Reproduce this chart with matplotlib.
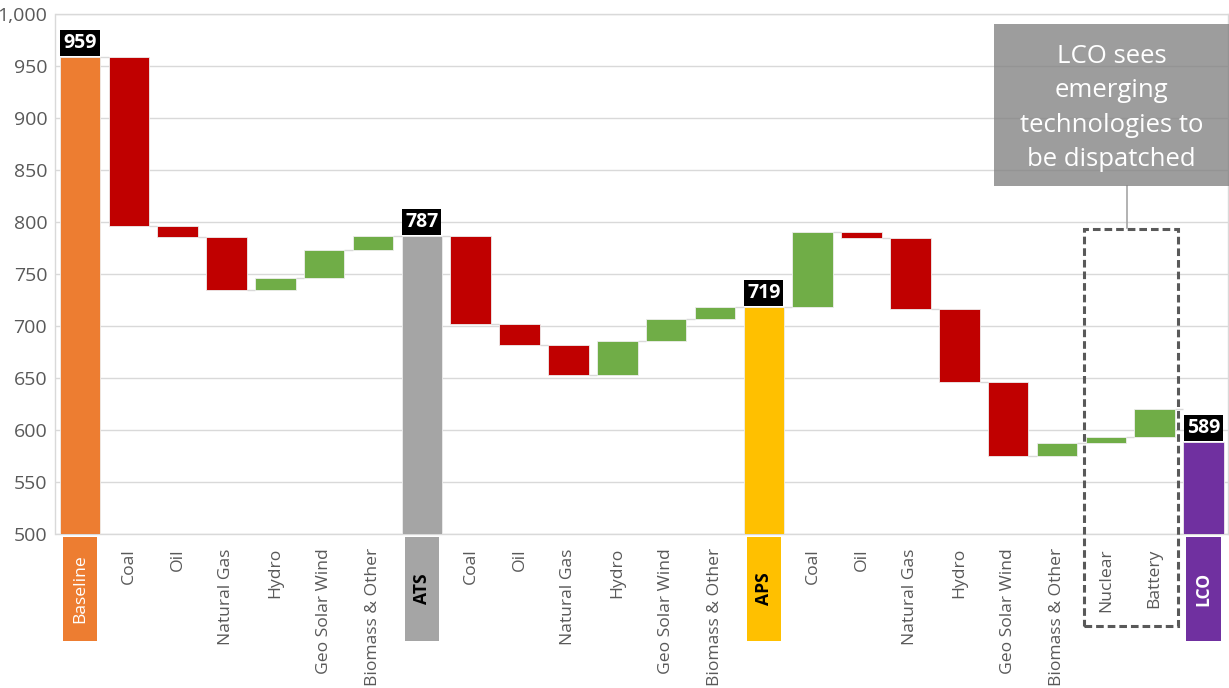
import matplotlib
matplotlib.use('Agg')
import matplotlib.pyplot as plt
from matplotlib.patches import Rectangle
from matplotlib.lines import Line2D
from matplotlib.transforms import blended_transform_factory
import matplotlib.ticker as mticker

# ---------------- data ----------------
categories = ["Baseline", "Coal", "Oil", "Natural Gas", "Hydro", "Geo Solar Wind", "Biomass & Other",
              "ATS", "Coal", "Oil", "Natural Gas", "Hydro", "Geo Solar Wind", "Biomass & Other",
              "APS", "Coal", "Oil", "Natural Gas", "Hydro", "Geo Solar Wind", "Biomass & Other",
              "Nuclear", "Battery", "LCO"]
# totals are absolute values, other entries are changes
values = [959, -163, -10, -51, 11, 27, 14,
          787, -85, -20, -29, 33, 21, 12,
          719, 72, -6, -68, -71, -71, 13, 6, 26,
          589]
is_total = [True] + [False] * 6 + [True] + [False] * 6 + [True] + [False] * 8 + [True]
total_colors = {"Baseline": "#ED7D31", "ATS": "#A5A5A5", "APS": "#FFC000", "LCO": "#7030A0"}
total_label_style = {"Baseline": ("white", "normal"), "ATS": ("black", "bold"),
                     "APS": ("black", "bold"), "LCO": ("white", "bold")}
y_ticks = [500, 550, 600, 650, 700, 750, 800, 850, 900, 950, 1000]
annotation_text = "LCO sees\nemerging\ntechnologies to\nbe dispatched"

UP_COLOR = "#70AD47"
DOWN_COLOR = "#C00000"
Y_MIN, Y_MAX = 500, 1000

plt.rcParams['font.family'] = ['Open Sans', 'DejaVu Sans']

W, H = 1229, 688
fig = plt.figure(figsize=(W / 100, H / 100), dpi=100)
ax_left, ax_right, ax_top, ax_bottom = 55.5, 1228, 14.3, 534.3
ax = fig.add_axes([ax_left / W, 1 - ax_bottom / H, (ax_right - ax_left) / W, (ax_bottom - ax_top) / H])

bottoms, heights, colors, levels = [], [], [], []
level = None
for cat, v, tot in zip(categories, values, is_total):
    if tot:
        bottoms.append(Y_MIN)
        heights.append(v - Y_MIN)
        colors.append(total_colors[cat])
        level = v
    else:
        start = level
        level = start + v
        bottoms.append(min(start, level))
        heights.append(abs(v))
        colors.append(UP_COLOR if v > 0 else DOWN_COLOR)
    levels.append(level)

x = list(range(len(categories)))
bw = 0.83
ax.bar(x, heights, bottom=bottoms, width=bw, color=colors, edgecolor='#EDEDED',
       linewidth=0.6, zorder=3)

# connectors
for i in range(len(x) - 1):
    ax.plot([i + bw / 2, i + 1 - bw / 2], [levels[i], levels[i]], color='#D9D9D9',
            lw=1, zorder=2, solid_capstyle='butt')

# total value labels
for i, (v, tot) in enumerate(zip(values, is_total)):
    if tot:
        ax.annotate(f"{v}", xy=(i, v), xytext=(0, 2.6), textcoords='offset points',
                    ha='center', va='bottom', color='white', fontweight='bold', fontsize=14,
                    bbox=dict(boxstyle='square,pad=0.15', fc='black', ec='none'), zorder=5)

ax.set_xlim(-0.5, len(x) - 0.5)
ax.set_ylim(Y_MIN, Y_MAX)
ax.set_yticks(y_ticks)
ax.yaxis.set_major_formatter(mticker.StrMethodFormatter('{x:,.0f}'))
ax.yaxis.grid(True, color='#D9D9D9', lw=1)
ax.set_axisbelow(True)
for sp in ax.spines.values():
    sp.set_color('#D9D9D9')
    sp.set_linewidth(1)
ax.tick_params(axis='y', length=0, labelsize=14, labelcolor='#595959', pad=6)
ax.tick_params(axis='x', length=0, labelsize=12.6, labelcolor='#595959', pad=10)
ax.set_xticks(x)
ax.set_xticklabels(['' if t else c for c, t in zip(categories, is_total)],
                   rotation=90, va='top', ha='center')

# coloured category boxes for totals
trans = blended_transform_factory(ax.transData, ax.transAxes)
for i, (c, t) in enumerate(zip(categories, is_total)):
    if t:
        ax.add_patch(Rectangle((i - 0.35, -0.205), 0.70, 0.2, transform=trans,
                               fc=total_colors[c], ec='none', clip_on=False))
        col, wt = total_label_style[c]
        ax.text(i, -0.105, c, transform=trans, rotation=90, ha='center', va='center',
                color=col, fontweight=wt, fontsize=12.6, clip_on=False)

# dashed box around emerging technologies
ax.add_patch(Rectangle((20.55, -0.176), 1.93, 0.764, transform=trans, fill=False,
                       ec='#595959', lw=2.2, ls=(0, (2.5, 1.3)), clip_on=False, zorder=6))

# annotation callout
fig.add_artist(Line2D([1126.7 / W, 1126.7 / W], [1 - 186 / H, 1 - 228.3 / H],
                      transform=fig.transFigure, color='#A6A6A6', lw=1.2, zorder=5))
fig.add_artist(Rectangle((994 / W, 1 - 186 / H), (1229 - 994) / W, (186 - 24) / H,
                         transform=fig.transFigure, fc='#7F7F7F', alpha=0.76, ec='none', zorder=5))
fig.text((994 + 1229) / 2 / W, 1 - 108 / H, annotation_text, ha='center', va='center',
         color='white', fontsize=18.5, linespacing=1.5, zorder=6)

fig.savefig('out.png', dpi=100)
